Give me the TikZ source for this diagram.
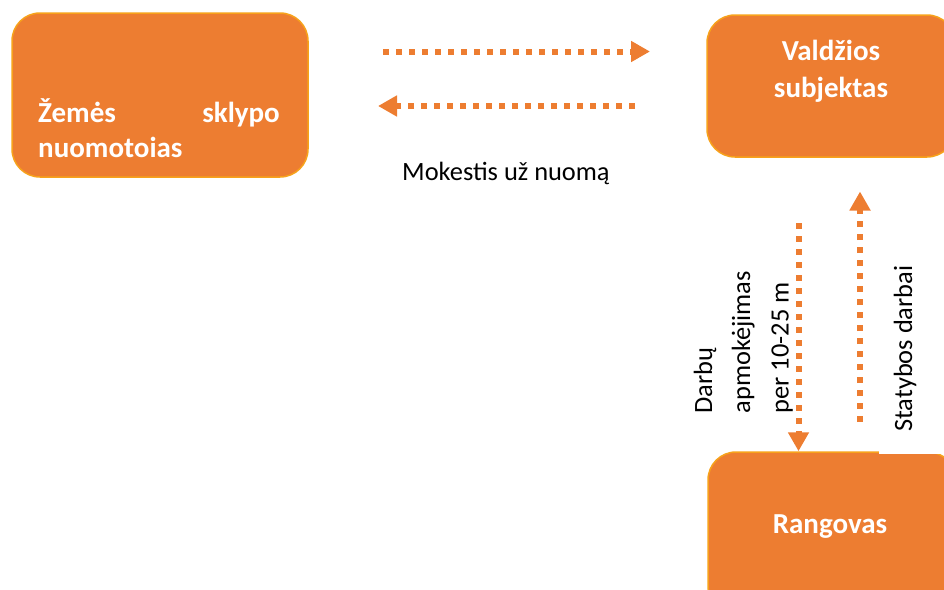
\documentclass[tikz,border=0pt]{standalone}
\usepackage{fontspec}
\setmainfont{Carlito}
\usetikzlibrary{arrows.meta}
\definecolor{boxorange}{HTML}{ED7D31}
\definecolor{boxedge}{HTML}{F7A21B}
\tikzset{
  pbox/.style={draw=boxedge, line width=1.5pt, fill=boxorange, rounded corners=28pt, inner sep=0pt},
  btxt/.style={text=white, font=\fontsize{29}{35}\selectfont\bfseries, inner sep=0pt},
  ltxt/.style={text=black, font=\fontsize{26.4}{38}\selectfont, inner sep=0pt},
  flow/.style={draw=boxorange, line width=6pt, dash pattern=on 6pt off 7pt, -{Triangle[length=19pt,width=20pt]}}
}
\begin{document}
\begin{tikzpicture}[x=1pt,y=-1pt]
\useasboundingbox (0,0) rectangle (944,589);
\begin{scope}
\clip (0,0) rectangle (944,589);
% boxes
\node[pbox, minimum width=296pt, minimum height=164pt] (owner) at (160,95) {};
\node[pbox, minimum width=248pt, minimum height=142pt] (gov) at (831,86) {};
\node[pbox, minimum width=248pt, minimum height=162pt] (contr) at (832,533) {};
\fill[white] (879,440) rectangle (950,454.3);
\end{scope}
% box texts
\node[btxt, anchor=base west] (ownerA) at (38,122) {Žemės};
\node[btxt, anchor=base east] (ownerB) at (280,122) {sklypo};
\node[btxt, anchor=base west] (ownerC) at (38,157) {nuomotoias};
\node[btxt, anchor=base] (govA) at (831,60) {Valdžios};
\node[btxt, anchor=base] (govB) at (831,97) {subjektas};
\node[btxt, anchor=base] (contrA) at (830,533) {Rangovas};
% arrow end points
\coordinate (h1s) at (383,51.5);
\coordinate (h1e) at (650,51.5);
\coordinate (h2s) at (635,106);
\coordinate (h2e) at (378,106);
\coordinate (v1s) at (798.5,223);
\coordinate (v2s) at (860,422);
\coordinate (v2e) at (860,191.5);
% arrows
\draw[flow] (h1s) -- (h1e);
\draw[flow] (h2s) -- (h2e);
\draw[flow] (v1s) -- (v1s |- contr.north);
\draw[flow] (v2s) -- (v2e);
% labels
\node[ltxt, anchor=base west] (fee) at (402,180) {Mokestis už nuomą};
\node[ltxt, anchor=base west, rotate=90] (payA) at (712,413.5) {Darbų};
\node[ltxt, anchor=base west, rotate=90] (payB) at (750,413.5) {apmokėjimas};
\node[ltxt, anchor=base west, rotate=90] (payC) at (788.5,413.5) {per 10-25 m};
\node[ltxt, anchor=base west, rotate=90] (build) at (912,432) {Statybos darbai};
\end{tikzpicture}
\end{document}
